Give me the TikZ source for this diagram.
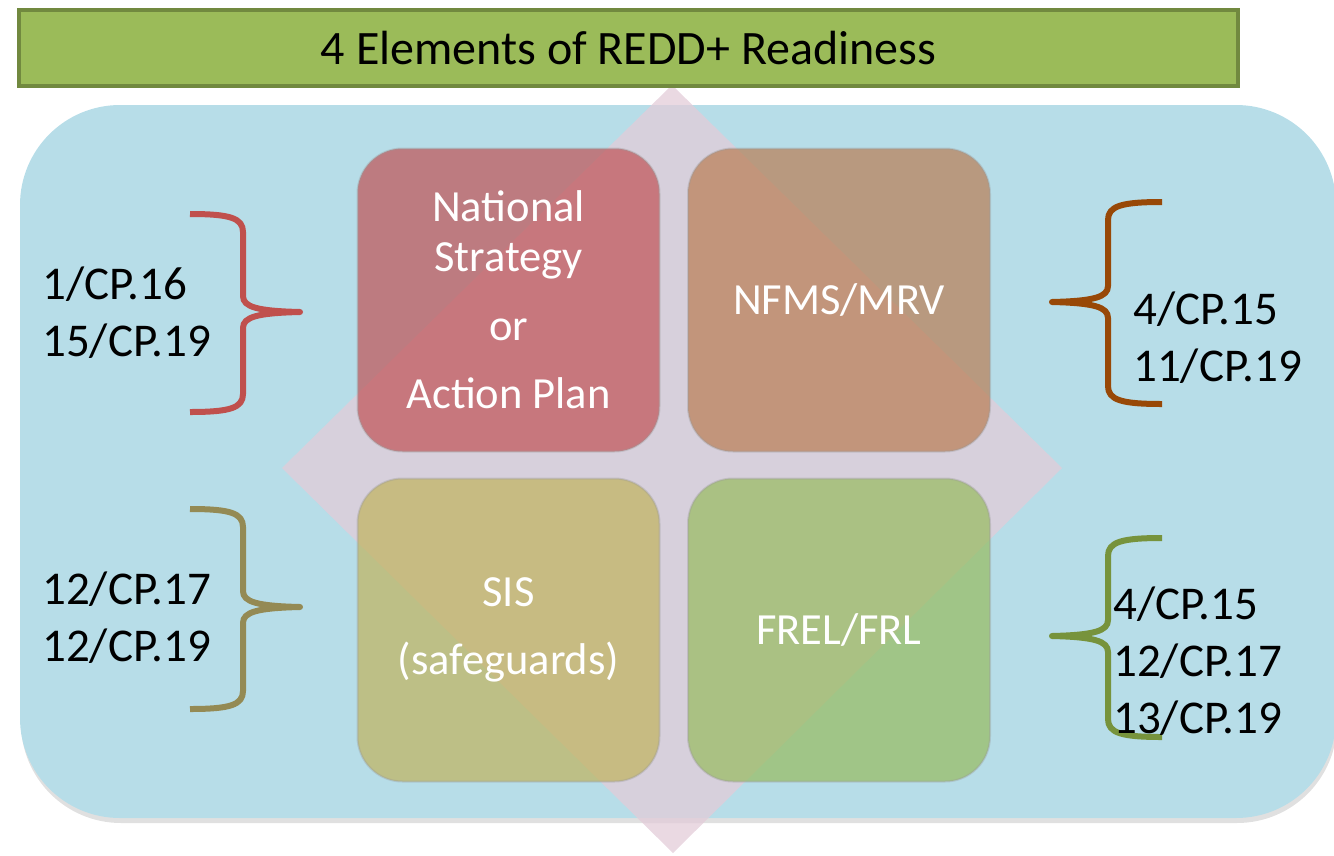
\documentclass[tikz,border=0pt]{standalone}
\usepackage{fontspec}
\setmainfont{Carlito}
\definecolor{bgblue}{RGB}{183,221,232}
\definecolor{titlegreen}{RGB}{155,187,89}
\definecolor{titleedge}{RGB}{113,137,63}
\definecolor{diam}{RGB}{227,204,216}
\definecolor{nsred}{RGB}{192,78,80}
\definecolor{nforange}{RGB}{185,122,78}
\definecolor{sisolive}{RGB}{192,178,88}
\definecolor{frelgreen}{RGB}{150,186,90}
\definecolor{bred}{RGB}{192,80,77}
\definecolor{bolive}{RGB}{148,138,84}
\definecolor{bbrown}{RGB}{152,72,7}
\definecolor{bgreen}{RGB}{119,147,60}
\newcommand\mybrace[7]{%
  \draw[#7,line width=6pt,line join=round]
    (#1,#4) .. controls ({#1+0.75*(#2-#1)},#4) and (#2,{#4+4}) .. (#2,{#4+18})
    -- (#2,{#5-16}) .. controls (#2,{#5-5}) and ({#2+0.25*(#3-#2)},{#5-1}) .. (#3,{#5})
    .. controls ({#2+0.25*(#3-#2)},{#5+1}) and (#2,{#5+5}) .. (#2,{#5+16})
    -- (#2,{#6-18}) .. controls (#2,{#6-4}) and ({#1+0.75*(#2-#1)},#6) .. (#1,#6);}
\begin{document}
\begin{tikzpicture}[x=1pt,y=-1pt,
  elem/.style={rounded corners=45pt,minimum width=302pt,minimum height=303pt,
    fill opacity=0.68,text opacity=1,draw=black!40,draw opacity=0.35,line width=2pt,
    text=white,font=\fontsize{44.5}{50}\selectfont,align=center,inner sep=0pt},
  ref/.style={font=\fontsize{47}{57}\selectfont,align=left,anchor=west,inner sep=0pt,text=black}]
\useasboundingbox (0,0) rectangle (1334,855);
% background panel
\fill[black,opacity=0.12,rounded corners=100pt] (21,110) rectangle (1337,823);
\fill[bgblue,rounded corners=100pt] (20,105) rectangle (1336,818);
% diamond
\coordinate (dT) at (672,85);
\coordinate (dR) at (1062,468);
\coordinate (dB) at (673,853);
\coordinate (dL) at (282,468);
\fill[diam,opacity=0.75] (dT) -- (dR) -- (dB) -- (dL) -- cycle;
% four elements
\node[elem,fill=nsred] (ns) at (508.5,300) {National\\Strategy\\[19pt]or\\[18pt]Action Plan};
\node[elem,fill=nforange] (nf) at (839,300) {NFMS/MRV};
\node[elem,fill=sisolive] (sis) at (508.5,630) {SIS\\[18pt](safeguards)};
\node[elem,fill=frelgreen] (frel) at (839,630) {FREL/FRL};
% braces
\mybrace{190}{243}{300}{214}{312}{412}{bred}
\mybrace{190}{243}{300}{509}{607}{709}{bolive}
\mybrace{1162}{1108}{1052}{202}{302}{404}{bbrown}
\mybrace{1162}{1108}{1052}{538}{636}{737}{bgreen}
% references
\node[ref] (r1) at (42,313) {1/CP.16\\15/CP.19};
\node[ref] (r2) at (42,618) {12/CP.17\\12/CP.19};
\node[ref] (r3) at (1133,338) {4/CP.15\\11/CP.19};
\node[ref] (r4) at (1113,661) {4/CP.15\\12/CP.17\\13/CP.19};
% title
\node[draw=titleedge,fill=titlegreen,line width=4pt,minimum width=1219pt,minimum height=76pt,
  inner sep=0pt,font=\fontsize{48}{50}\selectfont] (title) at (628.5,48) {4 Elements of REDD+ Readiness};
\end{tikzpicture}
\end{document}
